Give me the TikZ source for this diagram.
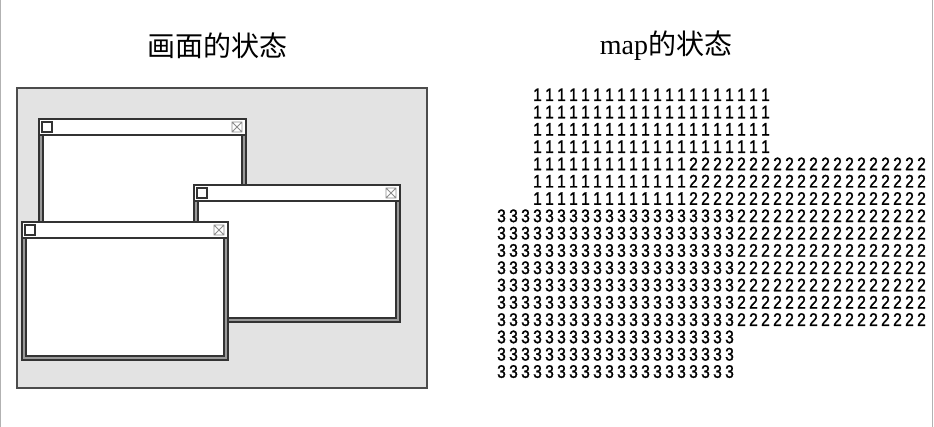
\documentclass[tikz,border=0pt]{standalone}
\usepackage{fontspec}
\setmainfont{Liberation Serif}
\newfontfamily\cjkfont{Noto Sans CJK SC}
\newfontfamily\digitfont[FakeStretch=0.86, FakeBold=1.4]{Liberation Sans}
\begin{document}
\begin{tikzpicture}[x=0.75pt, y=-0.75pt,
    panel/.style={fill=black!11, draw=black!70, line width=1.3pt},
    winframe/.style={fill=black!40, draw=black!80, line width=1.1pt},
    winbar/.style={fill=white, draw=black!80, line width=1pt},
    winpane/.style={fill=white, draw=black!80, line width=1pt},
    winbox/.style={fill=white, draw=black!80, line width=0.9pt},
    zoombox/.style={fill=white, draw=black!45, line width=0.7pt},
    title/.style={font=\fontsize{21}{24}\selectfont, inner sep=0pt},
    digit/.style={font=\digitfont\fontsize{13.6}{14}\selectfont, inner sep=0pt,
                  text height=9pt, text depth=0pt},
  ]
  \useasboundingbox (0,0) rectangle (934,427);
  \draw[black!30, line width=0.8pt] (0.6,0) -- (0.6,427) (932.8,0) -- (932.8,427);

  % titles
  \node[title] (scrtitle) at (217,46) {\cjkfont 画面的状态};
  \node[title] (maptitle) at (666,46) {map\cjkfont 的状态};

  % screen with three windows
  \filldraw[panel] (17,88) rectangle (427,388);
  \foreach \xa/\ya/\xb/\yb in {39/119/246/257, 194/185/400/322, 22/222/228/360} {
    \filldraw[winframe] (\xa,\ya) rectangle (\xb,\yb);
    \filldraw[winbar] (\xa,\ya) rectangle (\xb,\ya+16);
    \filldraw[winpane] (\xa+4,\ya+16) rectangle (\xb-4,\yb-4);
    \filldraw[winbox] (\xa+3,\ya+3) rectangle (\xa+13,\ya+13);
    \filldraw[zoombox] (\xb-14,\ya+3) rectangle (\xb-4,\ya+13)
      (\xb-14,\ya+3) -- (\xb-4,\ya+13) (\xb-14,\ya+13) -- (\xb-4,\ya+3);
  }

  % map: one digit per cell
  \foreach \ra/\rb/\ca/\cb/\d in {0/3/3/22/1, 4/6/3/15/1, 4/6/16/35/2,
                                  7/13/20/35/2, 7/16/0/19/3} {
    \foreach \r in {\ra,...,\rb}
      \foreach \c in {\ca,...,\cb}
        \node[digit] (m-\r-\c) at ({501.5+12*\c},{95+17.3*\r}) {\d};
  }
\end{tikzpicture}
\end{document}
